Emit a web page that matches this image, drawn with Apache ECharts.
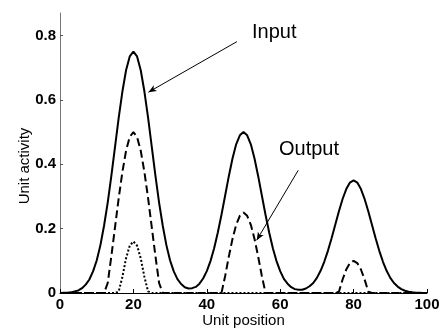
<!DOCTYPE html>
<html>
<head>
<meta charset="utf-8">
<script src="https://cdn.jsdelivr.net/npm/echarts@6/dist/echarts.min.js"></script>
<style>
  html, body { margin: 0; padding: 0; background: #fff; }
  #chart { width: 445px; height: 330px; }
</style>
</head>
<body>
<div id="chart"></div>
<script>
// unit positions along the x axis
var positions = [0,1,2,3,4,5,6,7,8,9,10,11,12,13,14,15,16,17,18,19,20,21,22,23,24,25,26,27,28,29,30,
  31,32,33,34,35,36,37,38,39,40,41,42,43,44,45,46,47,48,49,50,51,52,53,54,55,56,57,58,59,60,
  61,62,63,64,65,66,67,68,69,70,71,72,73,74,75,76,77,78,79,80,81,82,83,84,85,86,87,88,89,90,
  91,92,93,94,95,96,97,98,99,100];

// solid curve: input activity
var inputActivity = [0,0.001,0.001,0.002,0.005,0.008,0.015,0.026,0.042,0.067,0.101,
  0.148,0.209,0.281,0.365,0.455,0.545,0.626,0.692,0.735,0.750,
  0.735,0.692,0.626,0.545,0.455,0.365,0.281,0.209,0.148,0.101,
  0.067,0.043,0.028,0.018,0.014,0.015,0.019,0.029,0.045,0.068,
  0.099,0.139,0.188,0.243,0.303,0.363,0.418,0.462,0.490,0.500,
  0.490,0.462,0.418,0.363,0.303,0.243,0.188,0.139,0.099,0.068,
  0.044,0.029,0.018,0.012,0.010,0.010,0.014,0.021,0.031,0.047,
  0.069,0.097,0.131,0.170,0.212,0.254,0.292,0.323,0.343,0.350,
  0.343,0.323,0.292,0.254,0.212,0.170,0.131,0.097,0.069,0.047,
  0.031,0.020,0.012,0.007,0.004,0.002,0.001,0.001,0,0];

// dashed curve: output activity
var outputActivity = [0,0,0,0,0,0,0,0,0,0,0,
  0,0,0.031,0.115,0.205,0.295,0.376,0.442,0.485,0.500,
  0.485,0.442,0.376,0.295,0.205,0.115,0.031,0,0,0,
  0,0,0,0,0,0,0,0,0,0,
  0,0,0,0,0.053,0.113,0.168,0.212,0.240,0.250,
  0.240,0.212,0.168,0.113,0.053,0,0,0,0,0,
  0,0,0,0,0,0,0,0,0,0,
  0,0,0,0,0,0.004,0.042,0.073,0.093,0.100,
  0.093,0.073,0.042,0.004,0,0,0,0,0,0,
  0,0,0,0,0,0,0,0,0,0];

// dotted curve: second output
var secondOutput = [0,0,0,0,0,0,0,0,0,0,0,
  0,0,0,0,0,0.005,0.050,0.108,0.147,0.160,
  0.147,0.108,0.050,0.005,0,0,0,0,0,0,
  0,0,0,0,0,0,0,0,0,0,
  0,0,0,0,0,0,0,0,0,0,
  0,0,0,0,0,0,0,0,0,0,
  0,0,0,0,0,0,0,0,0,0,
  0,0,0,0,0,0,0,0,0,0,
  0,0,0,0,0,0,0,0,0,0,
  0,0,0,0,0,0,0,0,0,0];

var yTicks = [0, 0.2, 0.4, 0.6, 0.8];

function pairs(values) {
  return values.map(function(v, i) { return [positions[i], v]; });
}

var font = 'Liberation Sans, Arial, sans-serif';
var chart = echarts.init(document.getElementById('chart'), null, { renderer: 'canvas' });

chart.setOption({
  animation: false,
  grid: { left: 60, right: 18, top: 13, bottom: 37, outerBoundsMode: 'none' },
  xAxis: {
    type: 'value', min: 0, max: 100, interval: 20,
    name: 'Unit position', nameLocation: 'middle', nameGap: 20, nameMoveOverlap: false,
    nameTextStyle: { color: '#000', fontSize: 15, fontFamily: font },
    axisLine: { onZero: false, lineStyle: { color: '#000', width: 1 } },
    axisTick: { inside: true, length: 4, lineStyle: { color: '#000' } },
    axisLabel: { color: '#000', fontSize: 15, fontWeight: 'bold', fontFamily: font, margin: 4 },
    splitLine: { show: false }
  },
  yAxis: {
    type: 'value', min: 0, max: 0.87,
    name: 'Unit activity', nameLocation: 'middle', nameGap: 28, nameRotate: 90, nameMoveOverlap: false,
    nameTextStyle: { color: '#000', fontSize: 15, fontFamily: font, padding: [0, 0, 0, -26] },
    axisLine: { lineStyle: { color: '#777', width: 1 } },
    axisTick: { inside: true, length: 3, customValues: yTicks, lineStyle: { color: '#555' } },
    axisLabel: { color: '#000', fontSize: 15, fontWeight: 'bold', fontFamily: font, margin: 4,
      customValues: yTicks, formatter: function(v) { return v === 0 ? '0' : v.toFixed(1); } },
    splitLine: { show: false }
  },
  graphic: [
    { type: 'text', left: 252, top: 22, style: { text: 'Input', fill: '#000', font: '20px ' + font } },
    { type: 'text', left: 279, top: 139, style: { text: 'Output', fill: '#000', font: '20px ' + font } }
  ],
  series: [
    {
      name: 'Input', type: 'line', data: pairs(inputActivity), showSymbol: false,
      lineStyle: { color: '#000', width: 2 },
      markLine: {
        silent: true, symbol: ['none', 'arrow'], symbolSize: [5, 8],
        label: { show: false },
        lineStyle: { color: '#000', width: 1, type: 'solid' },
        data: [
          [{ coord: [48.2, 0.781] }, { coord: [24.1, 0.624] }],
          [{ coord: [64.9, 0.381] }, { coord: [53.6, 0.164] }]
        ]
      }
    },
    {
      name: 'Output', type: 'line', data: pairs(outputActivity), showSymbol: false,
      lineStyle: { color: '#000', width: 2, type: [8, 4] }
    },
    {
      name: 'Second output', type: 'line', data: pairs(secondOutput), showSymbol: false,
      lineStyle: { color: '#000', width: 2, type: [2, 2] }
    }
  ]
});
window.addEventListener('resize', function() { chart.resize(); });
</script>
</body>
</html>
